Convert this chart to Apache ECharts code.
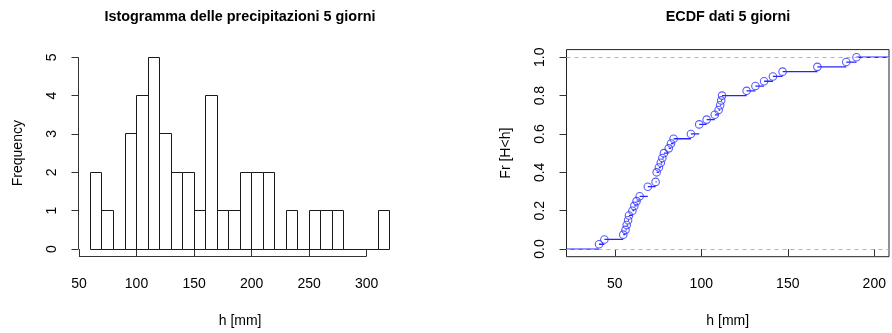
<!DOCTYPE html>
<html>
<head>
<meta charset="utf-8">
<script src="https://cdn.jsdelivr.net/npm/echarts@6/dist/echarts.min.js"></script>
<style>
  html, body { margin: 0; padding: 0; background: #ffffff; }
  #chart { width: 892px; height: 333px; }
</style>
</head>
<body>
<div id="chart"></div>
<script>
// ---- Histogram of 5-day precipitation: bin edges (mm) and counts ----
const binEdges = [60, 70, 80, 90, 100, 110, 120, 130, 140, 150, 160, 170, 180, 190, 200,
                  210, 220, 230, 240, 250, 260, 270, 280, 290, 300, 310, 320];
const binCounts = [2, 1, 0, 3, 4, 5, 3, 2, 2, 1, 4, 1, 1, 2, 2, 2, 0, 1, 0, 1, 1, 1, 0, 0, 0, 1];
const histXTicks = [50, 100, 150, 200, 250, 300];
const histYTicks = [0, 1, 2, 3, 4, 5];

// ---- ECDF sample: 5-day precipitation totals (mm) ----
const sample5d = [40.9, 44.0, 54.9, 56.2, 56.9, 57.7, 58.2, 60.2, 61.3, 62.6,
                  64.4, 69.1, 69.1, 73.6, 74.2, 74.2, 75.5, 76.6, 77.5, 78.4,
                  81.2, 82.5, 84.0, 94.0, 98.8, 98.8, 103.1, 107.8, 110.0, 110.9,
                  111.5, 112.0, 126.2, 131.3, 136.3, 141.4, 147.0, 167.1, 183.8, 189.7];
const ecdfXTicks = [50, 100, 150, 200];
const ecdfYTicks = [0, 0.2, 0.4, 0.6, 0.8, 1.0];

const FONT = "'Liberation Sans', Arial, Helvetica, sans-serif";
const INK = '#000000';
const BLUE = '#2424ff';

// axis ranges (data range padded by 4%, as in base graphics)
const hx = { min: 49.6, max: 330.4 };
const hy = { min: -0.2, max: 5.2 };
const ex = { min: 22.1, max: 208.5 };
const ey = { min: -0.04, max: 1.04 };

// empirical distribution: unique sorted knots and F(x) = P(H <= x)
const sorted = sample5d.slice().sort((a, b) => a - b);
const n = sorted.length;
const knots = [];
const probs = [];
sorted.forEach((v, i) => {
  if (knots.length && knots[knots.length - 1] === v) {
    probs[probs.length - 1] = (i + 1) / n;
  } else {
    knots.push(v);
    probs.push((i + 1) / n);
  }
});
// horizontal steps [from, to, level], without verticals
const steps = [[ex.min, knots[0], 0]];
knots.forEach((k, i) => {
  const next = i + 1 < knots.length ? knots[i + 1] : ex.max;
  steps.push([k, next, probs[i]]);
});

const bins = binCounts.map((c, i) => [binEdges[i], binEdges[i + 1], c]);
const crisp = v => Math.round(v - 0.5) + 0.5;

const tickLabel = { color: INK, fontFamily: FONT, fontSize: 14 };

const chart = echarts.init(document.getElementById('chart'), null, { renderer: 'canvas' });

chart.setOption({
  animation: false,
  backgroundColor: '#ffffff',
  graphic: [
    { type: 'text', x: 240, y: 17, style: { text: 'Istogramma delle precipitazioni 5 giorni',
      align: 'center', verticalAlign: 'middle', fill: INK, font: 'bold 14.4px ' + FONT } },
    { type: 'text', x: 728, y: 17, style: { text: 'ECDF dati 5 giorni',
      align: 'center', verticalAlign: 'middle', fill: INK, font: 'bold 14.4px ' + FONT } }
  ],
  grid: [
    { left: 78.5, top: 49.6, width: 323.2, height: 207.1, outerBoundsMode: 'none' },
    { left: 566.5, top: 49.6, width: 322.5, height: 207.1, outerBoundsMode: 'none',
      show: true, borderColor: '#222', borderWidth: 1, backgroundColor: 'transparent' }
  ],
  xAxis: [
    { gridIndex: 0, type: 'value', min: hx.min, max: hx.max,
      name: 'h [mm]', nameLocation: 'middle', nameGap: 57,
      nameTextStyle: { color: INK, fontFamily: FONT, fontSize: 14 },
      axisLine: { show: false },
      axisTick: { show: true, length: 7, customValues: histXTicks, lineStyle: { color: '#333' } },
      axisLabel: Object.assign({ customValues: histXTicks, margin: 20 }, tickLabel),
      splitLine: { show: false } },
    { gridIndex: 1, type: 'value', min: ex.min, max: ex.max,
      name: 'h [mm]', nameLocation: 'middle', nameGap: 57,
      nameTextStyle: { color: INK, fontFamily: FONT, fontSize: 14 },
      axisLine: { show: false },
      axisTick: { show: true, length: 7, customValues: ecdfXTicks, lineStyle: { color: '#333' } },
      axisLabel: Object.assign({ customValues: ecdfXTicks, margin: 20 }, tickLabel),
      splitLine: { show: false } }
  ],
  yAxis: [
    { gridIndex: 0, type: 'value', min: hy.min, max: hy.max,
      name: 'Frequency', nameLocation: 'middle', nameGap: 53,
      nameTextStyle: { color: INK, fontFamily: FONT, fontSize: 14 },
      axisLine: { show: false },
      axisTick: { show: true, length: 7, customValues: histYTicks, lineStyle: { color: '#333' } },
      axisLabel: Object.assign({ customValues: histYTicks, margin: 19, rotate: 90,
        formatter: v => String(Math.round(v)) }, tickLabel),
      splitLine: { show: false } },
    { gridIndex: 1, type: 'value', min: ey.min, max: ey.max,
      name: 'Fr [H<h]', nameLocation: 'middle', nameGap: 53,
      nameTextStyle: { color: INK, fontFamily: FONT, fontSize: 14 },
      axisLine: { show: false },
      axisTick: { show: true, length: 7, customValues: ecdfYTicks, lineStyle: { color: '#333' } },
      axisLabel: Object.assign({ customValues: ecdfYTicks, margin: 19, rotate: 90,
        formatter: v => v.toFixed(1) }, tickLabel),
      splitLine: { show: false } }
  ],
  series: [
    // histogram bars (empty-bin rectangles collapse to the baseline)
    { type: 'custom', xAxisIndex: 0, yAxisIndex: 0, data: bins, clip: false,
      renderItem: (params, api) => {
        const p0 = api.coord([api.value(0), api.value(2)]);
        const p1 = api.coord([api.value(1), 0]);
        const x0 = crisp(p0[0]), x1 = crisp(p1[0]);
        const y0 = crisp(p0[1]), y1 = crisp(p1[1]);
        return { type: 'rect', shape: { x: x0, y: y0, width: x1 - x0, height: y1 - y0 },
                 style: { fill: 'none', stroke: '#1a1a1a', lineWidth: 1 } };
      } },
    // histogram axis lines spanning first to last tick
    { type: 'custom', xAxisIndex: 0, yAxisIndex: 0, data: [[0]], clip: false, silent: true,
      renderItem: (params, api) => {
        const a = api.coord([histXTicks[0], hy.min]);
        const b = api.coord([histXTicks[histXTicks.length - 1], hy.min]);
        const c = api.coord([hx.min, histYTicks[0]]);
        const d = api.coord([hx.min, histYTicks[histYTicks.length - 1]]);
        const st = { stroke: '#333', lineWidth: 1 };
        return { type: 'group', children: [
          { type: 'line', shape: { x1: a[0], y1: crisp(a[1]), x2: b[0], y2: crisp(b[1]) }, style: st },
          { type: 'line', shape: { x1: crisp(c[0]), y1: c[1], x2: crisp(d[0]), y2: d[1] }, style: st }
        ] };
      } },
    // ECDF horizontal steps
    { type: 'custom', xAxisIndex: 1, yAxisIndex: 1, data: steps, clip: true, z: 2,
      itemStyle: { color: BLUE },
      renderItem: (params, api) => {
        const a = api.coord([api.value(0), api.value(2)]);
        const b = api.coord([api.value(1), api.value(2)]);
        return { type: 'line', shape: { x1: a[0], y1: a[1], x2: b[0], y2: b[1] },
                 style: { stroke: BLUE, fill: null, lineWidth: 1.3 } };
      } },
    // ECDF points at each knot
    { type: 'scatter', xAxisIndex: 1, yAxisIndex: 1, z: 3,
      data: knots.map((k, i) => [k, probs[i]]),
      symbol: 'circle', symbolSize: 7.5,
      itemStyle: { color: 'transparent', borderColor: '#3030ff', borderWidth: 1.1 } },
    // reference lines at 0 and 1
    { type: 'line', xAxisIndex: 1, yAxisIndex: 1, data: [], z: 5,
      markLine: { silent: true, symbol: 'none', label: { show: false },
        lineStyle: { color: '#b3b3b3', type: [4, 4], width: 1 },
        data: [{ yAxis: 0 }, { yAxis: 1 }] } }
  ]
});
</script>
</body>
</html>
